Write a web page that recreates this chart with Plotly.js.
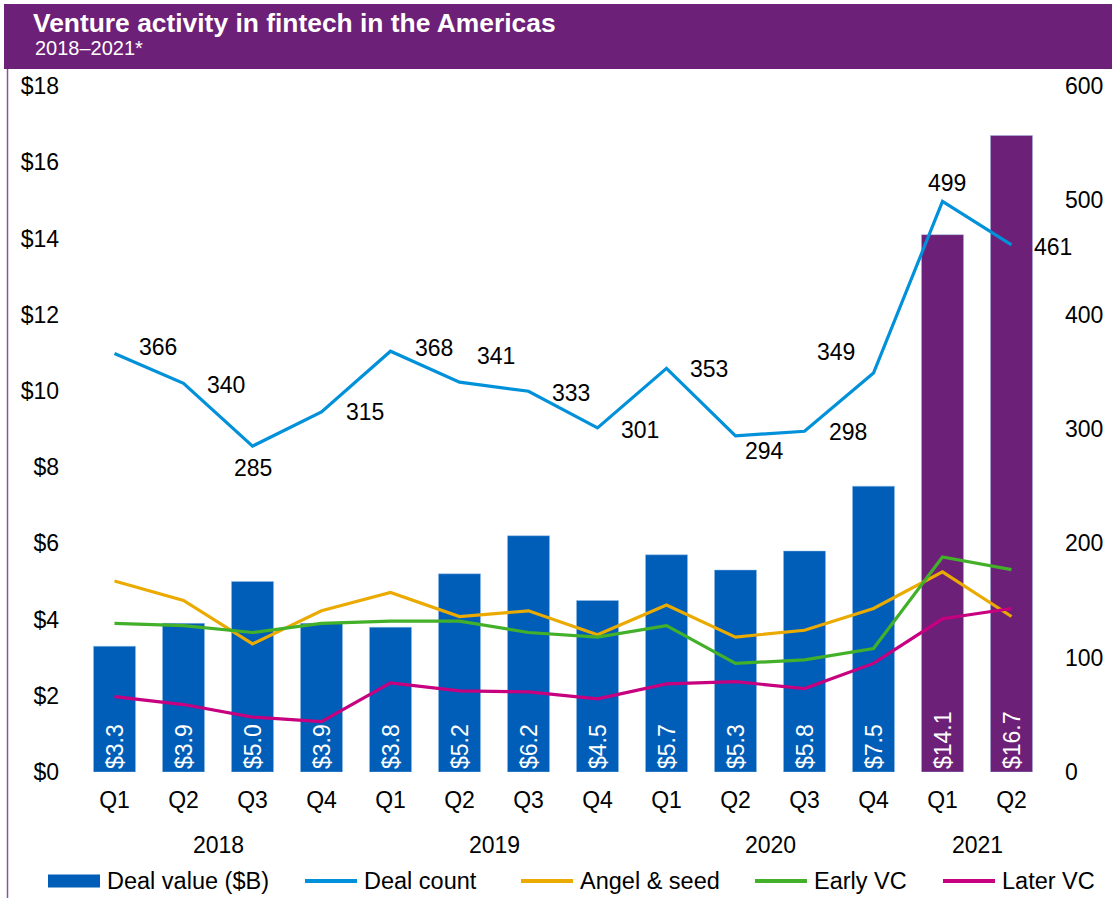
<!DOCTYPE html>
<html>
<head>
<meta charset="utf-8">
<script src="https://cdn.plot.ly/plotly-3.0.1.min.js"></script>
<style>
  html, body { margin: 0; padding: 0; background: #ffffff; }
  #chart { width: 1112px; height: 898px; }
</style>
</head>
<body>
<div id="chart"></div>
<script>
// ---------------- DATA ----------------
const years      = ['2018','2018','2018','2018','2019','2019','2019','2019','2020','2020','2020','2020','2021','2021'];
const quarters   = ['Q1','Q2','Q3','Q4','Q1','Q2','Q3','Q4','Q1','Q2','Q3','Q4','Q1','Q2'];
const dealValue  = [3.3, 3.9, 5.0, 3.9, 3.8, 5.2, 6.2, 4.5, 5.7, 5.3, 5.8, 7.5, 14.1, 16.7];
const dealCount  = [366, 340, 285, 315, 368, 341, 333, 301, 353, 294, 298, 349, 499, 461];
const angelSeed  = [167, 150, 112, 141, 157, 136, 141, 120, 146, 118, 124, 143, 175, 136];
const earlyVC    = [130, 128, 122, 130, 132, 132, 122, 118, 128, 95, 98, 108, 188, 177];
const laterVC    = [66, 59, 48, 44, 78, 71, 70, 64, 77, 79, 73, 95, 134, 143];
const seriesNames = ['Deal value ($B)', 'Deal count', 'Angel & seed', 'Early VC', 'Later VC'];
const titleText = 'Venture activity in fintech in the Americas';
const subtitleText = '2018\u20132021*';

// ---------------- STYLE / LAYOUT ----------------
const FONT = 'Arial, "Liberation Sans", Helvetica, sans-serif';
const W = 1112, H = 898;
const M = {l: 80, r: 66, t: 86, b: 126};
const PW = W - M.l - M.r, PH = H - M.t - M.b;
const px2x = px => (px - M.l) / PW;
const px2y = py => (H - M.b - py) / PH;

const BLUE = '#005EB8', PURPLE = '#6D2077';
const C_COUNT = '#0091DA', C_ANGEL = '#EAAA00', C_EARLY = '#43B02A', C_LATER = '#C6007E';
const lineColors = [BLUE, C_COUNT, C_ANGEL, C_EARLY, C_LATER];
const x = years.map((y, i) => y + ' ' + quarters[i]);
const barColors = years.map(y => y === '2021' ? PURPLE : BLUE);

// label offsets for deal-count labels (pixels)
const lblDx = [43, 42, 0, 43, 43, 36, 42, 42, 42, 29, 43, -38, 4, 41];
const lblDy = [7, -2, -22, 0, 3, 26, -2, -2, -1, -15, -1, 21, 18, -2];

const traces = [
  {
    type: 'bar', name: seriesNames[0], x: x, y: dealValue,
    marker: {color: barColors, line: {color: '#9CC3EA', width: 0.5}},
    width: 0.61,
    texttemplate: '$%{y:.1f}', textposition: 'inside', insidetextanchor: 'start',
    textangle: -90, textfont: {color: '#ffffff', size: 23, family: FONT},
    hoverinfo: 'skip', showlegend: false, yaxis: 'y'
  },
  {type: 'scatter', mode: 'lines', name: seriesNames[1], x: x, y: dealCount, yaxis: 'y2',
   line: {color: C_COUNT, width: 3.2}, showlegend: false},
  {type: 'scatter', mode: 'lines', name: seriesNames[2], x: x, y: angelSeed, yaxis: 'y2',
   line: {color: C_ANGEL, width: 3.2}, showlegend: false},
  {type: 'scatter', mode: 'lines', name: seriesNames[3], x: x, y: earlyVC, yaxis: 'y2',
   line: {color: C_EARLY, width: 3.2}, showlegend: false},
  {type: 'scatter', mode: 'lines', name: seriesNames[4], x: x, y: laterVC, yaxis: 'y2',
   line: {color: C_LATER, width: 3.2}, showlegend: false}
];

const annotations = [];
dealCount.forEach((v, i) => {
  annotations.push({
    x: i, y: v, xref: 'x', yref: 'y2', text: String(v), showarrow: false,
    xshift: lblDx[i], yshift: lblDy[i], xanchor: 'center', yanchor: 'middle',
    font: {size: 23, color: '#000000', family: FONT}
  });
});
// year group labels, centred under their quarters
const uniqueYears = [...new Set(years)];
uniqueYears.forEach(yr => {
  const idx = years.map((y, i) => y === yr ? i : null).filter(v => v !== null);
  const mid = idx.reduce((a, b) => a + b, 0) / idx.length;
  annotations.push({
    x: mid, xref: 'x', yref: 'paper', y: px2y(845), text: yr, showarrow: false,
    xanchor: 'center', yanchor: 'middle', font: {size: 23, color: '#000000', family: FONT}
  });
});
annotations.push({
  xref: 'paper', yref: 'paper', x: px2x(33), y: px2y(48), xanchor: 'left', yanchor: 'middle',
  text: subtitleText, showarrow: false, font: {size: 20, color: '#ffffff', family: FONT}
});

const shapes = [
  {type: 'rect', xref: 'paper', yref: 'paper', x0: px2x(4), x1: px2x(W), y0: px2y(69), y1: px2y(4),
   fillcolor: PURPLE, line: {width: 0}, layer: 'above'},
  {type: 'line', xref: 'paper', yref: 'paper', x0: px2x(7.5), x1: px2x(7.5), y0: px2y(H), y1: px2y(69),
   line: {color: '#8B559E', width: 1.5}}
];

// custom legend
const legStart = [48, 305, 521, 755, 943];
const legY = 881;
seriesNames.forEach((name, i) => {
  const s = legStart[i];
  if (i === 0) {
    shapes.push({type: 'rect', xref: 'paper', yref: 'paper', x0: px2x(s), x1: px2x(s + 52),
      y0: px2y(legY + 6.5), y1: px2y(legY - 6.5), fillcolor: BLUE, line: {width: 0}});
  } else {
    shapes.push({type: 'line', xref: 'paper', yref: 'paper', x0: px2x(s), x1: px2x(s + 52),
      y0: px2y(legY), y1: px2y(legY), line: {color: lineColors[i], width: 4}});
  }
  annotations.push({xref: 'paper', yref: 'paper', x: px2x(s + 57), y: px2y(legY), xanchor: 'left',
    yanchor: 'middle', text: name, showarrow: false, font: {size: 23.5, color: '#000000', family: FONT}});
});

const layout = {
  width: W, height: H,
  margin: M,
  paper_bgcolor: '#ffffff', plot_bgcolor: '#ffffff',
  font: {family: FONT, size: 23, color: '#000000'},
  title: {
    text: '<b>' + titleText + '</b>', xref: 'container', yref: 'container',
    x: 33 / W, xanchor: 'left', y: 1 - 23 / H, yanchor: 'middle',
    font: {size: 26.4, color: '#ffffff', family: FONT}
  },
  showlegend: false,
  xaxis: {
    type: 'category', showgrid: false, zeroline: false,
    showline: false, ticks: '', tickvals: x, ticktext: quarters, tickangle: 0,
    ticklabelstandoff: 12,
    tickfont: {size: 23, family: FONT, color: '#000000'},
    range: [-0.5, 13.5]
  },
  yaxis: {
    range: [0, 18], dtick: 2, tickprefix: '$', showgrid: false, zeroline: false,
    showline: false, ticks: '', ticklabelstandoff: 20,
    tickfont: {size: 23, family: FONT, color: '#000000'}
  },
  yaxis2: {
    range: [0, 600], dtick: 100, overlaying: 'y', side: 'right', showgrid: false,
    zeroline: false, showline: false, ticks: '', ticklabelstandoff: 18,
    tickfont: {size: 23, family: FONT, color: '#000000'}
  },
  shapes: shapes,
  annotations: annotations
};

Plotly.newPlot('chart', traces, layout, {displayModeBar: false, staticPlot: true});
</script>
</body>
</html>
